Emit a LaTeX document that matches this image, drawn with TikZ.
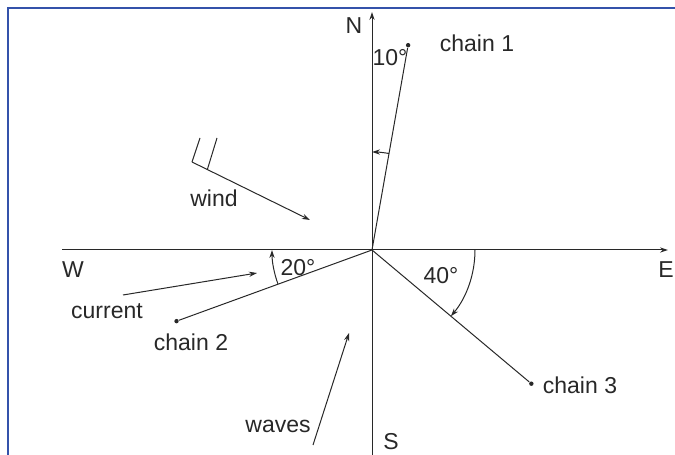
\documentclass[tikz,border=0pt]{standalone}
\usepackage{fontspec}
\setmainfont{Liberation Sans}
\usetikzlibrary{arrows.meta,calc}
\definecolor{framecol}{RGB}{52,82,170}
\definecolor{ink}{RGB}{40,40,40}

\begin{document}
\begin{tikzpicture}[x=0.5pt,y=0.5pt,line width=0.5pt,ink,
    >={Stealth[length=4pt,width=2.6pt]},
    lbl/.style={inner sep=0pt,font=\fontsize{11.5}{13}\selectfont},
    chain/.style={line width=0.5pt},
    anchordot/.style={circle,fill,inner sep=0pt,minimum size=2.2pt}]
  \useasboundingbox (0,0) rectangle (675,455);
  % frame
  \draw[line width=1pt,framecol] (8,0) -- (8,447) -- (675,447);
  % compass axes
  \coordinate (O) at (372,205);
  \coordinate (Stop) at (372,0);
  \coordinate (Ntip) at (372,443);
  \coordinate (Wend) at (62,205);
  \coordinate (Etip) at (668,205);
  \draw[->] (Stop) -- (Ntip);
  \draw[->] (Wend) -- (Etip);
  \node[lbl] (n) at (354,429) {N};
  \node[lbl] (w) at (73,185) {W};
  \node[lbl] (e) at (666,185) {E};
  \node[lbl] (s) at (391,13) {S};
  % anchor chains
  \node[anchordot] (c1) at ($(O)+(80:208)$) {};
  \node[anchordot] (c2) at ($(O)+(200:208)$) {};
  \node[anchordot] (c3) at ($(O)+(320:208)$) {};
  \draw[chain] (O) -- (c1);
  \draw[chain] (O) -- (c2);
  \draw[chain] (O) -- (c3);
  \node[lbl] (l1) at (477,412) {chain 1};
  \node[lbl] (l2) at (191,113) {chain 2};
  \node[lbl] (l3) at (580,70) {chain 3};
  % angles
  \draw[->] ($(O)+(80:98)$) arc (80:90:98);
  \draw[->] ($(O)+(200:100)$) arc (200:180:100);
  \draw[->] ($(O)+(0:103)$) arc (0:-40:103);
  \node[lbl] (a1) at (390,397) {10°};
  \node[lbl] (a2) at (298,187) {20°};
  \node[lbl] (a3) at (441,179) {40°};
  % wind
  \coordinate (w1) at (192,293);
  \coordinate (w2) at (310,235);
  \coordinate (wb) at ($(w1)!0.13!(w2)$);
  \coordinate (wb1) at (200,317);
  \coordinate (wb2) at (217,317);
  \draw[->] (w1) -- (w2);
  \draw (w1) -- (wb1);
  \draw (wb) -- (wb2);
  \node[lbl] (wind) at (214,257) {wind};
  % current
  \coordinate (cu1) at (123,160);
  \coordinate (cu2) at (257,182);
  \draw[->] (cu1) -- (cu2);
  \node[lbl] (cur) at (107,144) {current};
  % waves
  \coordinate (wv1) at (313,10);
  \coordinate (wv2) at (349,122);
  \draw[->] (wv1) -- (wv2);
  \node[lbl] (wav) at (278,29) {waves};
\end{tikzpicture}
\end{document}
